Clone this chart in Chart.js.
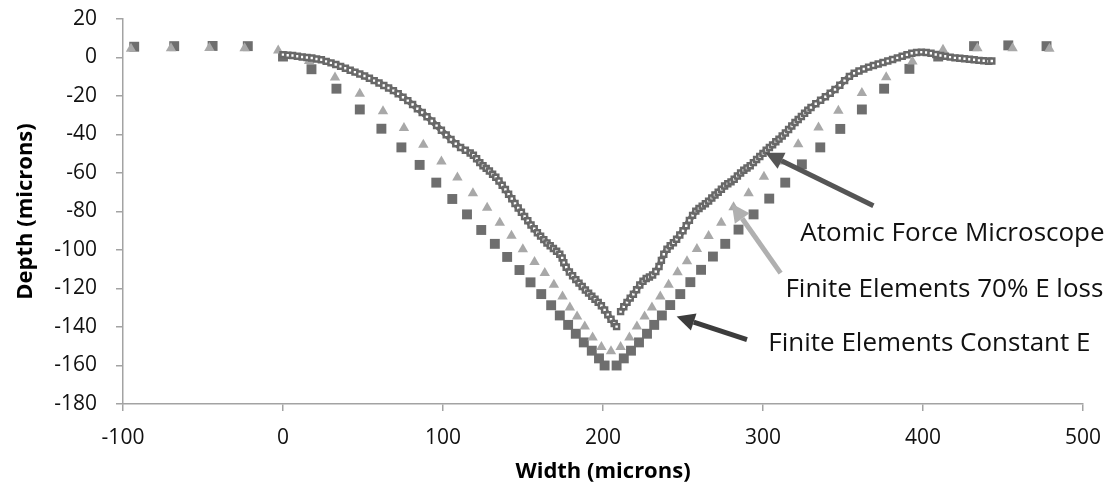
<!DOCTYPE html>
<html>
<head>
<meta charset="utf-8">
<script src="https://cdn.jsdelivr.net/npm/chart.js@4.4.1/dist/chart.umd.min.js"></script>
<style>
  html, body { margin: 0; padding: 0; background: #fff; }
  #wrap { width: 1109px; height: 492px; }
</style>
</head>
<body>
<div id="wrap"><canvas id="depth-chart" width="1109" height="492"></canvas></div>
<script>
// Finite elements, constant E (dark squares)
const feConstX = [-93, -68, -44, -22, 0, 17.8, 33.4, 48, 61.5, 74, 85.4, 95.8, 105.8, 115, 123.9, 132.4, 140.1, 147.8, 154.7, 161.4, 167.6, 173, 178.2, 183, 188, 193, 197.5, 201, 208.5, 213, 217.5, 222.5, 227.5, 232, 236.8, 242, 248.3, 254.6, 261.3, 268.7, 276.4, 284.7, 294.1, 303.9, 313.9, 324.3, 335.8, 348.3, 361.8, 375.7, 391.5, 409.5, 431.9, 453.3, 477.2];
const feConstY = [5.6, 5.9, 6.0, 5.9, 0.5, -6.1, -16.2, -27, -37, -46.7, -55.8, -65, -73.5, -81.5, -89.6, -96.8, -103.6, -110.4, -116.8, -122.9, -128.7, -134, -138.9, -143.5, -148, -152.3, -156.3, -160, -160, -156.3, -152.3, -148, -143.5, -138.9, -134, -128.6, -122.9, -116.7, -110.3, -103.4, -96.8, -89.4, -81.5, -73.3, -65, -55.5, -46.7, -37.1, -27, -16.2, -5.9, 0.5, 5.9, 6.3, 5.9];

// Finite elements, 70% E loss (light triangles)
const fe70X = [-95, -70, -46, -24, -3, 16.3, 32.5, 48, 62.5, 75.6, 87.7, 99, 109, 118.7, 127.6, 135.5, 142.8, 149.9, 157.2, 163.6, 169.3, 174.7, 179.3, 183.8, 188.6, 193.5, 199, 205, 211, 216.5, 221.2, 226, 230.6, 235.8, 241, 246.6, 252.5, 258.7, 266, 273.9, 281.6, 291, 300.6, 310.6, 322, 334.7, 347.1, 361.8, 377, 393.4, 412.5, 434, 456, 479];
const fe70Y = [4.6, 4.8, 4.9, 4.8, 3.6, -1.8, -10.4, -18.8, -27.9, -36.6, -45.3, -54, -62.3, -70.5, -78, -85.9, -92.6, -99.6, -106.2, -112, -118, -124.1, -129.9, -134.6, -139.8, -145.4, -150.4, -152.6, -150.4, -145.4, -139.8, -134.6, -129.9, -124.1, -118, -111.6, -105.9, -99.5, -92.7, -85.8, -77.8, -70.5, -62.0, -54, -45.1, -36.4, -27.7, -18.4, -10.2, -2.1, 4.0, 4.8, 4.8, 4.6];

// Atomic force microscope profile (null = break between the two branches)
const afmX = [0, 3, 6, 9, 12, 15, 18, 21, 24, 27, 30, 33, 36, 39, 42, 45, 48, 51, 54, 57, 60, 63, 66, 69, 72, 75, 78, 81, 84, 87, 90, 93, 96, 99, 102, 105, 108, 111, 114, 117, 119, 121, 123, 125, 127, 129, 131, 133, 135, 137, 139, 141, 143, 145, 147, 149, 151, 153, 155, 157, 159, 161, 163, 165, 167, 169, 171, 173, 174.5, 175.5, 177, 179, 181, 183, 185, 187, 189, 191, 193, 195, 197, 199, 201, 203, 205, 207, 208.5,
  210,
  211, 213, 215, 217, 219, 221, 223, 225, 227, 229, 231, 233, 235, 236.5, 238, 240, 242, 244, 246, 248, 250, 252, 254, 256, 258, 260, 262, 264, 266, 268, 270, 272, 274, 276, 278, 280, 282, 284, 286, 288, 290, 292, 294, 296, 298, 300, 302, 304, 306, 308, 310, 312, 314, 316, 318, 320, 322, 324, 326, 328, 330, 333, 336, 339, 342, 345, 348, 351, 354, 357, 360, 363, 366, 369, 372, 375, 378, 381, 384, 387, 390, 393, 396, 399, 402, 405, 408, 411, 414, 417, 420, 423, 426, 429, 432, 435, 438, 441, 443];
const afmY = [1.5, 1.2, 1.0, 0.6, 0.3, 0.0, -0.3, -0.8, -1.2, -2.0, -2.8, -3.6, -4.6, -5.6, -6.6, -7.6, -8.6, -9.6, -10.8, -12.0, -13.2, -14.5, -15.8, -17.2, -18.8, -20.6, -22.4, -24.4, -26.6, -28.6, -30.8, -33.0, -35.4, -37.8, -40.2, -42.6, -44.8, -46.8, -48.2, -49.6, -50.8, -52.6, -54.6, -56.2, -57.6, -59.0, -60.6, -62.2, -64.2, -66.4, -68.6, -71.0, -73.4, -75.8, -78.2, -80.4, -82.6, -84.8, -87.0, -89.0, -91.0, -92.8, -94.6, -96.4, -97.8, -99.2, -100.6, -102.2, -104.2, -106.6, -109.0, -111.4, -113.4, -115.4, -117.2, -119.0, -120.8, -122.4, -124.0, -125.6, -127.2, -129.0, -131.2, -133.6, -136.0, -138.2, -139.8,
  null,
  -132.0, -129.5, -127.2, -125.0, -123.0, -120.6, -118.2, -116.2, -114.8, -114.0, -113.0, -111.2, -108.6, -105.4, -102.2, -99.6, -97.8, -96.2, -94.4, -92.2, -90.0, -87.4, -84.6, -82.0, -79.8, -78.4, -77.2, -76.0, -74.6, -73.0, -71.4, -70.0, -68.4, -66.8, -65.6, -64.6, -63.2, -61.6, -60.0, -58.6, -57.4, -56.2, -54.6, -53.0, -51.4, -49.8, -48.2, -46.8, -45.4, -43.8, -42.4, -40.8, -39.2, -37.4, -35.6, -33.8, -32.2, -30.6, -29.0, -27.4, -26.0, -24.0, -22.2, -20.4, -18.6, -16.6, -14.4, -12.0, -9.8, -8.2, -7.0, -6.0, -5.0, -4.2, -3.4, -2.6, -1.8, -1.0, -0.2, 0.6, 1.4, 2.2, 2.6, 2.8, 2.6, 2.2, 1.6, 1.0, 0.6, 0.2, -0.2, -0.4, -0.6, -0.9, -1.2, -1.5, -1.7, -1.9, -1.8];

// Axis ranges and titles
const xRange = [-100, 500];
const yRange = [-180, 20];
const xTitle = 'Width (microns)';
const yTitle = 'Depth (microns)';

// Callout texts
const noteLabels = ['Atomic Force Microscope', 'Finite Elements 70% E loss', 'Finite Elements Constant E'];

function toPoints(xs, ys) {
  return xs.map((x, i) => ({ x: x, y: ys[i] }));
}

// Draws the arrows and callout texts in data coordinates
const calloutPlugin = {
  id: 'callouts',
  afterDatasetsDraw(chart, args, opts) {
    const ctx = chart.ctx;
    const xs = chart.scales.x;
    const ys = chart.scales.y;
    ctx.save();
    opts.arrows.forEach(a => {
      const x1 = xs.getPixelForValue(a.from[0]);
      const y1 = ys.getPixelForValue(a.from[1]);
      const x2 = xs.getPixelForValue(a.to[0]);
      const y2 = ys.getPixelForValue(a.to[1]);
      const ang = Math.atan2(y2 - y1, x2 - x1);
      const head = 18;
      const bx = x2 - Math.cos(ang) * head;
      const by = y2 - Math.sin(ang) * head;
      ctx.strokeStyle = a.color;
      ctx.fillStyle = a.color;
      ctx.lineWidth = 5;
      ctx.beginPath();
      ctx.moveTo(x1, y1);
      ctx.lineTo(bx, by);
      ctx.stroke();
      ctx.beginPath();
      ctx.moveTo(x2, y2);
      ctx.lineTo(bx + Math.sin(ang) * 9, by - Math.cos(ang) * 9);
      ctx.lineTo(bx - Math.sin(ang) * 9, by + Math.cos(ang) * 9);
      ctx.closePath();
      ctx.fill();
    });
    ctx.fillStyle = '#111';
    ctx.font = '26px "Open Sans"';
    ctx.textBaseline = 'middle';
    ctx.textAlign = 'left';
    opts.labels.forEach((l, i) => {
      ctx.fillText(noteLabels[i], xs.getPixelForValue(l.at[0]), ys.getPixelForValue(l.at[1]));
    });
    ctx.restore();
  }
};

const axisColor = '#a3a3a3';

new Chart(document.getElementById('depth-chart').getContext('2d'), {
  type: 'scatter',
  data: {
    datasets: [
      {
        label: 'Atomic Force Microscope',
        data: toPoints(afmX, afmY),
        showLine: true,
        spanGaps: false,
        borderColor: '#686868',
        borderWidth: 6,
        pointStyle: 'rect',
        pointRadius: 3.5,
        pointBorderWidth: 2.5,
        pointBackgroundColor: '#ffffff',
        pointBorderColor: '#686868'
      },
      {
        label: 'Finite Elements 70% E loss',
        data: toPoints(fe70X, fe70Y),
        pointStyle: 'triangle',
        pointRadius: 6,
        pointBorderWidth: 0,
        backgroundColor: '#a8a8a8',
        borderColor: '#a8a8a8'
      },
      {
        label: 'Finite Elements Constant E',
        data: toPoints(feConstX, feConstY),
        pointStyle: 'rect',
        pointRadius: 7,
        pointBorderWidth: 0,
        backgroundColor: '#6e6e6e',
        borderColor: '#6e6e6e'
      }
    ]
  },
  options: {
    responsive: false,
    animation: false,
    events: [],
    layout: { padding: { left: 0, right: 26, top: 19, bottom: 0 } },
    plugins: {
      legend: { display: false },
      tooltip: { enabled: false },
      callouts: {
        arrows: [
          { from: [369, -77], to: [301.5, -49.5], color: '#555555' },
          { from: [311, -112], to: [280.5, -76], color: '#b0b0b0' },
          { from: [290, -146.5], to: [246, -134.5], color: '#3c3c3c' }
        ],
        labels: [
          { at: [323.3, -91.7] },
          { at: [314, -120.5] },
          { at: [303.3, -148.5] }
        ]
      }
    },
    scales: {
      x: {
        type: 'linear',
        min: xRange[0],
        max: xRange[1],
        afterFit: s => { s.height = 88; s.paddingLeft = 0; s.paddingRight = 0; },
        border: { display: true, color: axisColor, width: 1.5 },
        grid: { drawOnChartArea: false, drawTicks: true, tickLength: 7, color: axisColor, lineWidth: 1.5 },
        ticks: { stepSize: 100, padding: 14, color: '#111', font: { family: 'Open Sans', size: 21 } },
        title: { display: true, text: xTitle, color: '#000', padding: { top: 0, bottom: 7 }, font: { family: 'Open Sans', size: 22, weight: 'bold' } }
      },
      y: {
        type: 'linear',
        min: yRange[0],
        max: yRange[1],
        afterFit: s => { s.width = 123; s.paddingTop = 0; s.paddingBottom = 0; },
        border: { display: true, color: axisColor, width: 1.5 },
        grid: { drawOnChartArea: false, drawTicks: true, tickLength: 7, color: axisColor, lineWidth: 1.5 },
        ticks: { stepSize: 20, padding: 19, color: '#111', font: { family: 'Open Sans', size: 21 } },
        title: { display: true, text: yTitle, color: '#000', padding: { top: 13, bottom: 0 }, font: { family: 'Open Sans', size: 22, weight: 'bold' } }
      }
    }
  },
  plugins: [calloutPlugin]
});
</script>
</body>
</html>
